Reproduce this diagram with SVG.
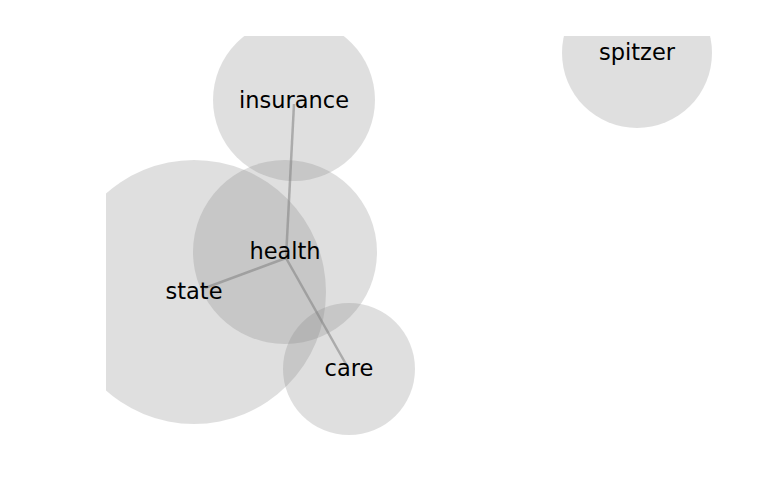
<svg xmlns="http://www.w3.org/2000/svg" width="768" height="500" viewBox="0 0 768 500">
<style>
.n{fill:#808080;fill-opacity:0.25}
.e{stroke:#808080;stroke-opacity:0.55;stroke-width:2.5;fill:none}
.t{font-family:"DejaVu Sans",sans-serif;font-size:22.5px;text-anchor:middle;fill:#000}
</style>
<defs><clipPath id="ax"><rect x="106" y="36" width="662" height="464"/></clipPath></defs>
<rect width="768" height="500" fill="#fff"/>
<g clip-path="url(#ax)">
<g id="node-state"><circle class="n" cx="194" cy="292" r="132"/></g>
<g id="node-health"><circle class="n" cx="285" cy="252" r="92"/></g>
<g id="node-insurance"><circle class="n" cx="294" cy="100" r="81"/></g>
<g id="node-care"><circle class="n" cx="349" cy="369" r="66"/></g>
<g id="node-spitzer"><circle class="n" cx="637" cy="53" r="75"/></g>
</g>
<g id="edges">
<line class="e" x1="286" y1="258" x2="294" y2="104"/>
<line class="e" x1="286" y1="258" x2="205" y2="288"/>
<line class="e" x1="286" y1="258" x2="347" y2="366"/>
</g>
<g id="labels">
<text class="t" x="294" y="108">insurance</text>
<text class="t" x="637" y="60">spitzer</text>
<text class="t" x="285" y="259">health</text>
<text class="t" x="194" y="299">state</text>
<text class="t" x="349" y="376">care</text>
</g>
</svg>
